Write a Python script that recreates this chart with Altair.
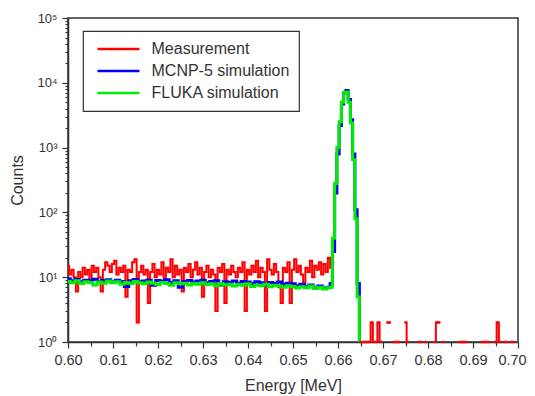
import altair as alt
import numpy as np
import pandas as pd

series_names = ["Measurement", "MCNP-5 simulation", "FLUKA simulation"]
series_colors = ["#ff0000", "#0000ff", "#00ee00"]

# Measurement: 0.0005 MeV bins from 0.6000 to 0.7000 (None = zero counts)
meas_background = [
    15, 11, 13, 10, 6, 12, 10, 14, 11, 13,
    9, 15, 12, 14, 10, 6, 13, 17, 15, 12,
    16, 18, 11, 14, 12, 15, 5, 13, 12, 17,
    19, 2, 12, 15, 11, 13, 4, 12, 16, 10,
    13, 11, 17, 9, 14, 12, 19, 10, 15, 11,
    13, 6, 14, 12, 16, 10, 13, 17, 11, 14,
    5, 12, 15, 10, 13, 11, 3, 14, 12, 16,
    4, 13, 11, 15, 12, 10, 14, 12, 17, 3,
    13, 11, 15, 12, 18, 10, 14, 12, 3, 19,
    13, 11, 16, 12, 7, 4, 14, 12, 17, 4,
    13, 19, 12, 15, 11, 8, 14, 12, 18, 10,
    15, 13, 17, 11, 16, 12, 20, 14,
]
meas_peak = [40, 250, 900, 2300, 4800, 6900, 7300, 5200, 2600, 700, 90, 6]
meas_tail = [
    1, 1, 1, 1, 1, 2, 1, 1, 2, 1,
    None, None, 2, 2, None, 1, 1, 1, None, None,
    2, 1, None, None, None, None, 1, 1, None, 1,
    None, None, None, 1, 2, 2, None, 1, None, None,
    None, None, None, None, 1, 1, 1, 1, None, None,
    None, None, None, None, 1, 1, 1, 1, None, None,
    1, 2, 1, None, 1, 1, None, 1, 1, None,
    None,
]

# Simulations: 0.001 MeV bins below the peak, 0.0005 MeV bins across it
mcnp_background = [
    9.5, 8.8, 9.2, 8.6, 9.0, 8.7, 9.3, 8.5, 8.9, 9.1,
    8.4, 9.0, 8.6, 7.2, 8.8, 9.2, 8.5, 8.7, 9.0, 7.5,
    8.9, 8.6, 9.1, 8.3, 8.8, 7.0, 8.6, 8.9, 8.4, 8.7,
    9.0, 8.2, 8.6, 8.8, 7.6, 8.5, 8.3, 8.7, 8.1, 8.6,
    8.4, 8.0, 8.5, 8.2, 7.5, 8.3, 8.0, 8.4, 7.8, 8.1,
    7.9, 7.4, 7.8, 7.2, 7.6, 6.9, 7.3, 6.8, 7.0,
]
mcnp_peak = [8, 25, 200, 800, 2200, 4700, 7000, 7600, 5500, 2700, 800, 110, 8, 1]

fluka_background = [
    8.6, 8.2, 8.8, 8.0, 8.5, 8.3, 7.6, 8.4, 8.1, 8.7,
    8.2, 8.5, 7.8, 8.3, 8.0, 8.6, 8.2, 7.9, 8.4, 8.1,
    7.7, 8.3, 8.0, 7.5, 8.2, 7.9, 8.1, 7.6, 8.0, 7.8,
    8.2, 7.7, 7.9, 7.4, 8.0, 7.6, 7.8, 7.3, 7.7, 7.5,
    7.9, 7.2, 7.6, 7.4, 7.8, 7.1, 7.5, 7.3, 7.0, 7.4,
    7.2, 6.8, 7.1, 6.9, 7.3, 6.7, 7.0, 6.6, 6.9,
]
fluka_peak = [7, 40, 280, 1000, 2500, 5000, 7100, 7200, 5000, 2400, 650, 80, 5, 1]

x_ticks = [round(0.6 + 0.005 * i, 3) for i in range(21)]
y_ticks = [m * 10 ** k for k in range(5) for m in range(1, 10)] + [100000]

meas_vals = meas_background + meas_peak + meas_tail
meas_e = 0.6 + 0.0005 * np.arange(len(meas_vals))
sim_e = np.concatenate([0.6 + 0.001 * np.arange(len(mcnp_background)),
                        0.6585 + 0.0005 * np.arange(len(mcnp_peak))])

frames = [
    pd.DataFrame({"E": meas_e, "C": pd.Series(meas_vals, dtype="float"), "S": series_names[0]}),
    pd.DataFrame({"E": sim_e, "C": mcnp_background + mcnp_peak, "S": series_names[1]}),
    pd.DataFrame({"E": sim_e, "C": fluka_background + fluka_peak, "S": series_names[2]}),
]
df = pd.concat(frames, ignore_index=True)

txt = "#333333"
font = "Liberation Sans"

x_enc = alt.X(
    "E:Q",
    scale=alt.Scale(domain=[0.6, 0.7], nice=False, zero=False),
    axis=alt.Axis(
        title="Energy [MeV]", values=x_ticks, grid=False,
        labelExpr="abs(datum.value*100 - round(datum.value*100)) < 0.01 ? format(datum.value, '.2f') : ''",
        tickSize={"condition": {"test": "abs(datum.value*100 - round(datum.value*100)) < 0.01", "value": 6}, "value": 4},
        labelOffset={"condition": {"test": "datum.value > 0.699", "value": -6}, "value": 0},
        labelFontSize=14.5, labelPadding=5, titleFontSize=16, titlePadding=11,
        labelFlush=False, labelOverlap=False,
    ),
)
y_enc = alt.Y(
    "C:Q",
    scale=alt.Scale(type="log", domain=[1, 100000], nice=False),
    axis=alt.Axis(
        title="Counts", values=y_ticks, grid=False,
        labelExpr="abs(log(datum.value)/LN10 - round(log(datum.value)/LN10)) < 0.001 ? '10' + ['\u2070','\u00b9','\u00b2','\u00b3','\u2074','\u2075'][round(log(datum.value)/LN10)] : ''",
        tickSize={"condition": {"test": "abs(log(datum.value)/LN10 - round(log(datum.value)/LN10)) < 0.001", "value": 6}, "value": 3},
        labelFontSize=13, labelPadding=5, titleFontSize=16, titlePadding=11,
        labelFlush=False, labelOverlap=False,
    ),
)
color_enc = alt.Color(
    "S:N",
    scale=alt.Scale(domain=series_names, range=series_colors),
    legend=alt.Legend(title=None),
)

widths = [2, 3, 3]
layers = []
for name, w in zip(series_names, widths):
    layers.append(
        alt.Chart(df)
        .transform_filter(alt.datum.S == name)
        .mark_line(interpolate="step", strokeWidth=w, clip=True)
        .encode(x=x_enc, y=y_enc, color=color_enc)
    )

# isolated measurement counts after the peak, drawn as small dots
dots = (
    alt.Chart(df)
    .transform_filter((alt.datum.S == series_names[0]) & (alt.datum.E > 0.6648) & (alt.datum.C > 0))
    .mark_square(size=6, opacity=1, clip=False)
    .encode(x=x_enc, y=y_enc, color=color_enc)
)
layers.append(dots)

chart = (
    alt.layer(*layers)
    .properties(
        width=450, height=324,
        padding={"left": 60, "top": 10, "right": 9, "bottom": 54},
        autosize=alt.AutoSizeParams(type="none"),
    )
    .configure_view(stroke=txt, strokeWidth=1.5)
    .configure_axis(
        domainColor=txt, domainWidth=1.5, tickColor=txt, tickWidth=1.2,
        labelColor=txt, titleColor=txt, labelFont=font, titleFont=font,
        titleFontWeight="normal",
    )
    .configure_legend(
        orient="none", legendX=15, legendY=13,
        strokeColor=txt, strokeWidth=1.2, padding=9.5,
        symbolType="M-3,0H3", symbolSize=196, symbolStrokeWidth=2.5,
        symbolOffset=17.5, labelOffset=24.5, rowPadding=5,
        labelFontSize=16, labelFont=font, labelColor=txt,
    )
)

chart.save("out.html", embed_options={"renderer": "svg", "actions": False})
